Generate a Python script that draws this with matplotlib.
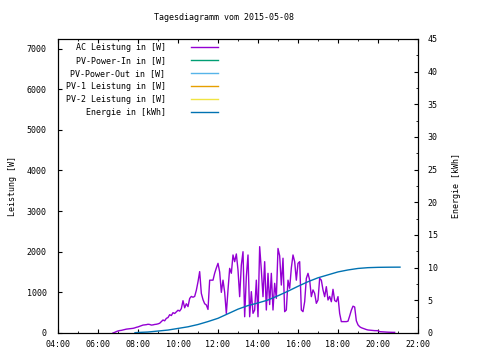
import pandas as pd
import matplotlib
matplotlib.use("Agg")
import matplotlib.pyplot as plt
import matplotlib.dates as mdates
from matplotlib.ticker import MultipleLocator

plt.rcParams['font.family'] = 'DejaVu Sans Mono'
plt.rcParams['font.size'] = 6

# AC Leistung [W], 5-min values starting 06:45
ac_start = "2015-05-08 06:45"
ac_power = [
    0, 15, 35,
    50, 60, 65, 75, 85, 95, 100, 105, 110, 115, 125, 140,                 # 07
    150, 165, 180, 195, 200, 205, 215, 210, 195, 200, 210, 215,           # 08
    225, 240, 280, 320, 300, 360, 380, 450, 430, 500, 480, 520,           # 09
    560, 540, 600, 795, 620, 720, 650, 850, 900, 880, 900, 1050,          # 10
    1260, 1510, 975, 820, 720, 690, 580, 1300, 1300, 1300, 1470, 1600,    # 11
    1714, 1500, 1000, 1300, 1000, 480, 1060, 1590, 1470, 1920, 1755, 1945,  # 12
    1550, 894, 1673, 2000, 400, 1386, 1920, 400, 1017, 484, 566, 1300,    # 13
    400, 2124, 1550, 894, 1755, 566, 1468, 700, 1468, 566, 1222, 853,     # 14
    2080, 1900, 1180, 1840, 525, 566, 1300, 1100, 1600, 1920, 1755, 1300,  # 15
    1714, 1755, 566, 525, 771, 1345, 1468, 1300, 894, 1060, 975, 730,     # 16
    812, 1345, 1300, 1060, 894, 1140, 812, 900, 770, 1075, 800, 770,      # 17
    895, 480, 280, 280, 280, 280, 290, 420, 560, 660, 640, 300,           # 18
    200, 155, 130, 115, 100, 85, 74, 70, 65, 60, 58, 57,                  # 19
    57, 33, 30, 28, 25, 22, 20, 18, 16, 16, 16,                           # 20
]

# Energie [kWh]
energy_times = ["07:51", "08:00", "08:30", "09:00", "09:30", "10:00", "10:30",
                "11:00", "11:30", "12:00", "12:30", "13:00", "13:30", "14:00",
                "14:30", "15:00", "15:30", "16:00", "16:30", "17:00", "17:30",
                "18:00", "18:30", "19:00", "19:30", "20:00", "20:30", "21:00",
                "21:06"]
energy_kwh = [0.05, 0.08, 0.15, 0.3, 0.45, 0.7, 0.95,
              1.3, 1.75, 2.25, 2.95, 3.65, 4.2, 4.6,
              5.05, 5.7, 6.4, 7.15, 7.85, 8.45, 8.9,
              9.35, 9.65, 9.88, 10.0, 10.05, 10.07, 10.08,
              10.08]

ac_t = pd.date_range(ac_start, periods=len(ac_power), freq="5min")
en_t = pd.to_datetime(["2015-05-08 " + t for t in energy_times])

fig = plt.figure(figsize=(4.8, 3.6), dpi=100)
ax = fig.add_axes([58 / 480, 1 - 333 / 360, 360 / 480, 294 / 360])
ax2 = ax.twinx()

l_ac, = ax.plot(ac_t, ac_power, c='#9400d3', lw=1.0, label="AC Leistung in [W]")
l_in, = ax.plot([], [], c='#009e73', lw=1.0, label="PV-Power-In in [W]")
l_out, = ax.plot([], [], c='#56b4e9', lw=1.0, label="PV-Power-Out in [W]")
l_p1, = ax.plot([], [], c='#e69f00', lw=1.0, label="PV-1 Leistung in [W]")
l_p2, = ax.plot([], [], c='#f0e442', lw=1.0, label="PV-2 Leistung in [W]")
l_en, = ax2.plot(en_t, energy_kwh, c='#0072b2', lw=1.0, label="Energie in [kWh]")

ax.set_xlim(pd.Timestamp("2015-05-08 04:00"), pd.Timestamp("2015-05-08 22:00"))
ax.set_ylim(0, 7234)
ax2.set_ylim(0, 45)

ax.xaxis.set_major_locator(mdates.HourLocator(byhour=range(0, 24, 2)))
ax.xaxis.set_minor_locator(mdates.HourLocator())
ax.xaxis.set_major_formatter(mdates.DateFormatter("%H:%M"))
ax.yaxis.set_major_locator(MultipleLocator(1000))
ax2.yaxis.set_major_locator(MultipleLocator(5))
ax2.yaxis.set_minor_locator(MultipleLocator(2.5))

ax.tick_params(axis='x', which='both', direction='in', top=True, pad=5)
ax.tick_params(axis='x', which='major', length=3)
ax.tick_params(axis='x', which='minor', length=1.5)
ax.tick_params(axis='y', direction='in', length=3, pad=8, right=False)
ax2.tick_params(axis='y', which='major', direction='in', length=3, pad=7)
ax2.tick_params(axis='y', which='minor', direction='in', length=1.5)

ax.set_ylabel("Leistung [W]", labelpad=7)
ax2.set_ylabel("Energie [kWh]", labelpad=10)
fig.text(224 / 480, 1 - 18 / 360, "Tagesdiagramm vom 2015-05-08", ha='center', va='center')

handles = [l_ac, l_in, l_out, l_p1, l_p2, l_en]
ax2.legend(handles, [h.get_label() for h in handles], markerfirst=False, frameon=False,
           loc='upper right', bbox_to_anchor=(218 / 480, 1 - 42.5 / 360),
           bbox_transform=fig.transFigure, borderpad=0, borderaxespad=0,
           handlelength=3.3, handletextpad=3.0, labelspacing=0.5)

fig.savefig("out.png", dpi=100)
